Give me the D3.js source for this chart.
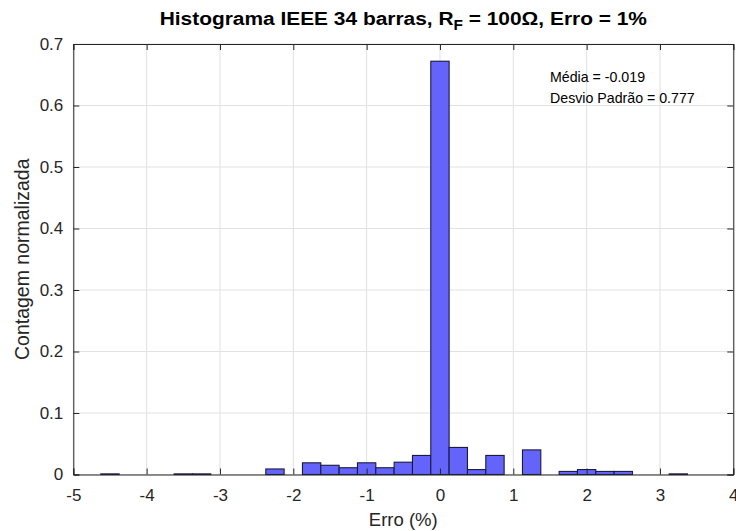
<!DOCTYPE html>
<html><head><meta charset="utf-8">
<script src="https://cdn.jsdelivr.net/npm/d3@7"></script>
<style>
body{margin:0;background:#fff;}
text{font-family:"Liberation Sans",Arial,Helvetica,sans-serif;}
</style></head>
<body><svg id="c" width="736" height="531"></svg>
<script>
// bin centres (%), bin width 0.25
const binCenters = [-4.5, -3.5, -3.25, -2.25, -1.75, -1.5, -1.25, -1.0, -0.75, -0.5, -0.25, 0, 0.25, 0.5, 0.75, 1.25, 1.75, 2.0, 2.25, 2.5, 3.25];
const values     = [0.001, 0.001, 0.001, 0.009, 0.019, 0.015, 0.011, 0.019, 0.011, 0.020, 0.031, 0.672, 0.044, 0.008, 0.031, 0.040, 0.005, 0.008, 0.005, 0.005, 0.001];
const binWidth = 0.25;
const xTicks = [-5, -4, -3, -2, -1, 0, 1, 2, 3, 4];
const yTicks = [0, 0.1, 0.2, 0.3, 0.4, 0.5, 0.6, 0.7];
const titleMain = "Histograma IEEE 34 barras, R";
const titleSub = "F";
const titleRest = " = 100\u03A9, Erro = 1%";
const annot = ["M\u00e9dia = -0.019", "Desvio Padr\u00e3o = 0.777"];
const xLabel = "Erro (%)";
const yLabel = "Contagem normalizada";

const svg = d3.select("#c");
const L = 73.3, R = 733.3, T = 44, B = 474.5;
const x = d3.scaleLinear().domain([-5, 4]).range([L, R]);
const y = d3.scaleLinear().domain([0, 0.7]).range([B, T]);
const axisCol = "#262626";

// grid
const g = svg.append("g");
g.selectAll(".gx").data(xTicks).join("line")
  .attr("x1", d => x(d)).attr("x2", d => x(d)).attr("y1", T).attr("y2", B)
  .attr("stroke", "#e2e2e2").attr("stroke-width", 1);
g.selectAll(".gy").data(yTicks).join("line")
  .attr("y1", d => y(d)).attr("y2", d => y(d)).attr("x1", L).attr("x2", R)
  .attr("stroke", "#e2e2e2").attr("stroke-width", 1);

// bars
svg.append("g").selectAll("rect").data(binCenters).join("rect")
  .attr("x", d => x(d - binWidth / 2))
  .attr("width", d => x(d + binWidth / 2) - x(d - binWidth / 2))
  .attr("y", (d, i) => y(values[i]))
  .attr("height", (d, i) => B - y(values[i]))
  .attr("fill", "#6464fa")
  .attr("stroke", "#1a1a40").attr("stroke-width", 1.1);

// axes
const tl = 6;
const ax = d3.axisBottom(x).tickValues(xTicks).tickSize(-tl).tickPadding(14).tickFormat(d => String(d));
const ay = d3.axisLeft(y).tickValues(yTicks).tickSize(-tl).tickPadding(10).tickFormat(d => d === 0 ? "0" : d3.format(".1f")(d));
const axT = d3.axisTop(x).tickValues(xTicks).tickSize(-tl).tickFormat("");
const axR = d3.axisRight(y).tickValues(yTicks).tickSize(-tl).tickFormat("");
function style(sel, fs){
  sel.selectAll("path,line").attr("stroke", axisCol);
  sel.selectAll("text").attr("fill", axisCol).style("font-size", fs + "px").style("font-family", '"Liberation Sans",Arial,sans-serif');
}
style(svg.append("g").attr("transform", `translate(0,${B})`).call(ax), 17);
style(svg.append("g").attr("transform", `translate(${L},0)`).call(ay), 17);
style(svg.append("g").attr("transform", `translate(0,${T})`).call(axT), 17);
style(svg.append("g").attr("transform", `translate(${R},0)`).call(axR), 17);

// title
const cx = (L + R) / 2;
const t = svg.append("text").attr("transform", `translate(${cx},25) scale(1.1,1)`).attr("text-anchor", "middle")
  .attr("font-weight", "bold").attr("font-size", 19).attr("fill", "#000");
t.append("tspan").text(titleMain);
t.append("tspan").attr("dy", 5).attr("font-size", 14).text(titleSub);
t.append("tspan").attr("dy", -5).text(titleRest);

// annotation
svg.append("g").selectAll("text").data(annot).join("text")
  .attr("x", 550).attr("y", (d, i) => 82 + i * 20.5)
  .attr("font-size", 14.2).attr("fill", "#000").text(d => d);

// labels
svg.append("text").attr("x", cx).attr("y", 526).attr("text-anchor", "middle")
  .attr("font-size", 18.5).attr("fill", axisCol).text(xLabel);
svg.append("text").attr("transform", `translate(29,${(T + B) / 2}) rotate(-90)`).attr("text-anchor", "middle")
  .attr("font-size", 19.5).attr("fill", axisCol).text(yLabel);
</script></body></html>
